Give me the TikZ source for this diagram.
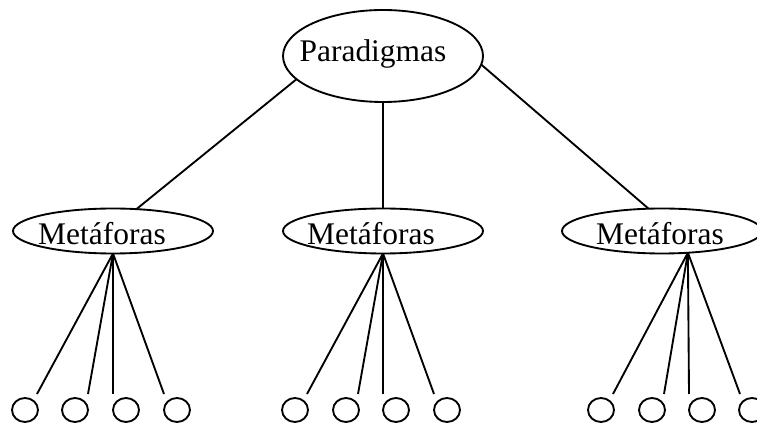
\documentclass[tikz,border=0pt]{standalone}
\usepackage{fontspec}
\setmainfont{Liberation Serif}
\usetikzlibrary{shapes.geometric}
\begin{document}
\begin{tikzpicture}[x=0.75pt,y=-0.75pt,
  every path/.style={line width=1.4pt},
  bigell/.style={draw,ellipse,inner sep=0pt,outer sep=0pt,minimum width=150pt,minimum height=69pt},
  midell/.style={draw,ellipse,inner sep=0pt,outer sep=0pt,minimum width=150pt,minimum height=33.75pt},
  leaf/.style={draw,ellipse,inner sep=0pt,outer sep=0pt,minimum width=19.5pt,minimum height=18pt},
  lbl/.style={anchor=base,inner sep=0pt,font=\fontsize{23.6}{28}\selectfont},
  conn/.style={line width=1.4pt}]
\useasboundingbox (0,0) rectangle (757,423);
% top
\node[bigell] (P) at (383,56) {};
\node[lbl] (Pt) at (373,62) {Paradigmas};
% middle level
\node[midell] (M1) at (113,231) {};
\node[midell] (M2) at (383,231) {};
\node[midell] (M3) at (662,231) {};
\node[lbl] (M1t) at (102,245) {Metáforas};
\node[lbl] (M2t) at (371,245) {Metáforas};
\node[lbl] (M3t) at (660,245) {Metáforas};
\draw[conn] (P.195) -- (M1.43);
\draw[conn] (P.south) -- (M2.north);
\draw[conn] (P.355) -- (M3.121);
% leaves
\foreach \i/\x in {1/25,2/75,3/126,4/177} {\node[leaf] (La\i) at (\x,410) {};}
\foreach \i/\x in {1/295,2/346,3/396,4/447} {\node[leaf] (Lb\i) at (\x,410) {};}
\foreach \i/\x in {1/601,2/652,3/702,4/752} {\node[leaf] (Lc\i) at (\x,410) {};}
% free line ends
\foreach \i/\x in {1/37,2/88,3/113,4/164} {\coordinate (ea\i) at (\x,394);}
\foreach \i/\x in {1/307,2/358,3/383,4/434} {\coordinate (eb\i) at (\x,394);}
\foreach \i/\x in {1/613,2/664,3/689,4/740} {\coordinate (ec\i) at (\x,394);}
\foreach \i in {1,2,3,4} {
  \draw[conn] (M1.south) -- (ea\i);
  \draw[conn] (M2.south) -- (eb\i);
  \draw[conn] (M3.-40) -- (ec\i);
}
\end{tikzpicture}
\end{document}
